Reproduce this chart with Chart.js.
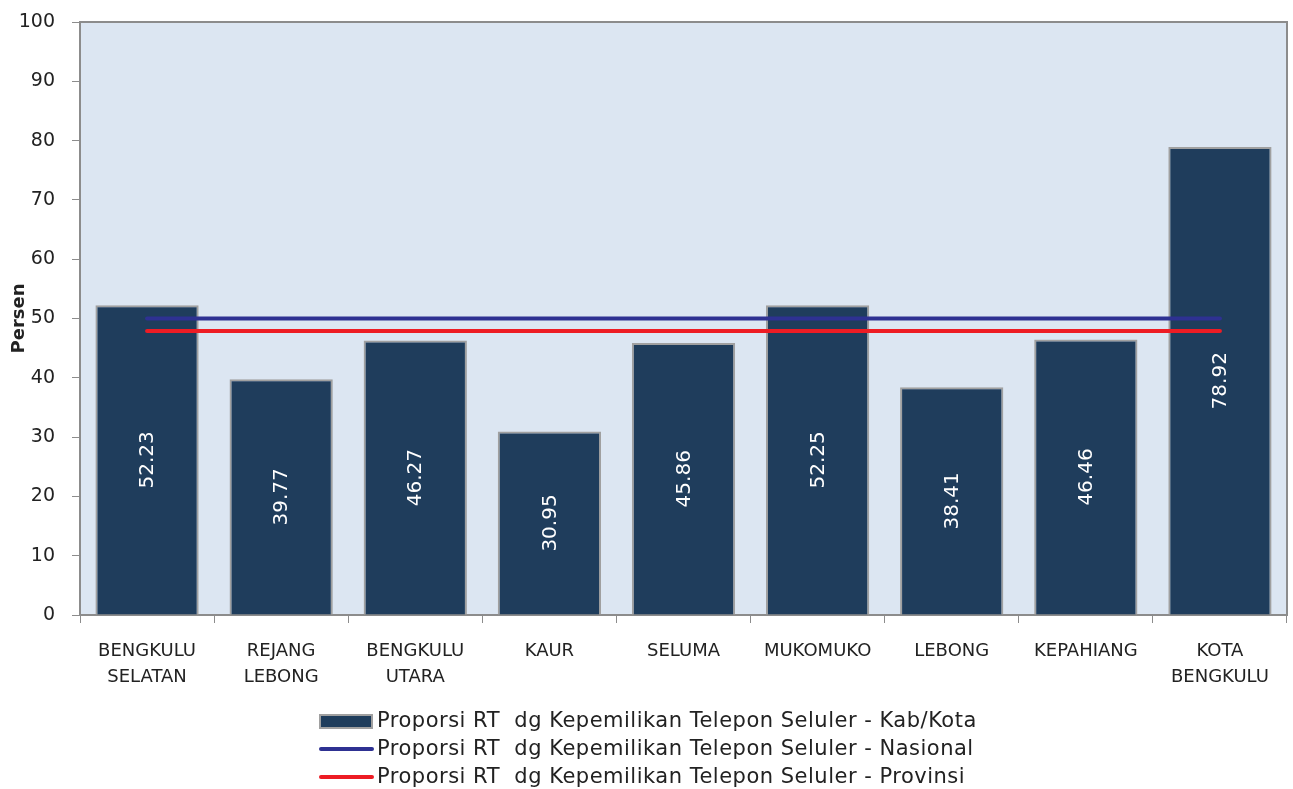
<!DOCTYPE html>
<html lang="id">
<head>
<meta charset="UTF-8">
<title>Proporsi RT dg Kepemilikan Telepon Seluler</title>
<script src="https://cdn.jsdelivr.net/npm/chart.js@4.4.0/dist/chart.umd.min.js"></script>
<style>
  html, body { margin: 0; padding: 0; background: #fff; }
  #wrap { width: 1293px; height: 789px; position: relative; }
</style>
</head>
<body>
<div id="wrap"><canvas id="chart"></canvas></div>
<script>
const categories = [
  ['BENGKULU', 'SELATAN'], ['REJANG', 'LEBONG'], ['BENGKULU', 'UTARA'], 'KAUR', 'SELUMA',
  'MUKOMUKO', 'LEBONG', 'KEPAHIANG', ['KOTA', 'BENGKULU']
];
const kabKota = [52.23, 39.77, 46.27, 30.95, 45.86, 52.25, 38.41, 46.46, 78.92];
const nasional = [50, 50, 50, 50, 50, 50, 50, 50, 50];
const provinsi = [47.9, 47.9, 47.9, 47.9, 47.9, 47.9, 47.9, 47.9, 47.9];
const seriesNames = [
  'Proporsi RT  dg Kepemilikan Telepon Seluler - Kab/Kota',
  'Proporsi RT  dg Kepemilikan Telepon Seluler - Nasional',
  'Proporsi RT  dg Kepemilikan Telepon Seluler - Provinsi'
];

const FONT = '"DejaVu Sans", sans-serif';
const BAR = '#1f3d5c';
const BLUE = '#2e3192';
const RED = '#ed1c24';

// plot background and frame
const frame = {
  id: 'frame',
  beforeDraw(chart) {
    const a = chart.chartArea, ctx = chart.ctx;
    ctx.save();
    ctx.fillStyle = '#dce6f2';
    ctx.fillRect(a.left, a.top, a.right - a.left, a.bottom - a.top);
    ctx.restore();
  },
  afterDraw(chart) {
    const a = chart.chartArea, ctx = chart.ctx;
    ctx.save();
    ctx.strokeStyle = '#8c8c8c';
    ctx.lineWidth = 2;
    ctx.beginPath();
    ctx.moveTo(a.left, a.top);
    ctx.lineTo(a.right, a.top);
    ctx.lineTo(a.right, a.bottom);
    ctx.stroke();
    ctx.restore();
  }
};

// rotated value labels inside bars
const barLabels = {
  id: 'barLabels',
  afterDatasetsDraw(chart) {
    const ctx = chart.ctx;
    const meta = chart.getDatasetMeta(0);
    ctx.save();
    ctx.fillStyle = '#ffffff';
    ctx.font = '20px ' + FONT;
    ctx.textAlign = 'center';
    ctx.textBaseline = 'middle';
    meta.data.forEach((bar, i) => {
      const cy = (bar.y + bar.base) / 2;
      ctx.save();
      ctx.translate(bar.x, cy);
      ctx.rotate(-Math.PI / 2);
      ctx.fillText(kabKota[i].toFixed(2), 0, 1);
      ctx.restore();
    });
    ctx.restore();
  }
};

// legend stacked at the bottom
const legendBox = {
  id: 'legendBox',
  afterDraw(chart) {
    const ctx = chart.ctx;
    const x0 = 320, w = 52, rows = [721, 749, 777];
    ctx.save();
    ctx.font = '21px ' + FONT;
    ctx.letterSpacing = '0.5px';
    ctx.textBaseline = 'middle';
    ctx.fillStyle = BAR;
    ctx.fillRect(x0, rows[0] - 6, w, 13);
    ctx.strokeStyle = '#a0a0a0';
    ctx.lineWidth = 2;
    ctx.strokeRect(x0, rows[0] - 6, w, 13);
    ctx.lineCap = 'round';
    ctx.lineWidth = 4;
    ctx.strokeStyle = BLUE;
    ctx.beginPath(); ctx.moveTo(x0 + 1, rows[1]); ctx.lineTo(x0 + w, rows[1]); ctx.stroke();
    ctx.strokeStyle = RED;
    ctx.beginPath(); ctx.moveTo(x0 + 1, rows[2]); ctx.lineTo(x0 + w, rows[2]); ctx.stroke();
    ctx.fillStyle = '#222';
    seriesNames.forEach((t, i) => ctx.fillText(t, x0 + 57, rows[i] + 1));
    ctx.restore();
  }
};

new Chart(document.getElementById('chart'), {
  data: {
    labels: categories,
    datasets: [
      {
        type: 'bar', label: seriesNames[0], data: kabKota, order: 2,
        backgroundColor: BAR, borderColor: '#a0a0a0', borderWidth: 2,
        barPercentage: 0.77, categoryPercentage: 1
      },
      {
        type: 'line', label: seriesNames[1], data: nasional, order: 1,
        borderColor: BLUE, borderWidth: 4, borderCapStyle: 'round', pointRadius: 0, fill: false
      },
      {
        type: 'line', label: seriesNames[2], data: provinsi, order: 0,
        borderColor: RED, borderWidth: 4, borderCapStyle: 'round', pointRadius: 0, fill: false
      }
    ]
  },
  options: {
    responsive: true,
    maintainAspectRatio: false,
    animation: false,
    layout: { padding: { top: 22, right: 6, bottom: 0, left: 0 } },
    plugins: {
      legend: { display: false },
      tooltip: { enabled: false }
    },
    scales: {
      x: {
        offset: true,
        grid: { offset: true, drawOnChartArea: false, color: '#8c8c8c', tickLength: 8 },
        border: { color: '#8c8c8c', width: 2 },
        ticks: { color: '#222', font: { family: FONT, size: 18, lineHeight: 1.45 }, padding: 15, maxRotation: 0, autoSkip: false },
        afterFit(s) { s.height = 174; s.paddingLeft = 0; s.paddingRight = 0; }
      },
      y: {
        min: 0, max: 100,
        grid: { drawOnChartArea: false, color: '#8c8c8c', tickLength: 8 },
        border: { color: '#8c8c8c', width: 2 },
        ticks: { stepSize: 10, color: '#222', font: { family: FONT, size: 19 }, padding: 17 },
        title: { display: true, text: 'Persen', color: '#222', font: { family: FONT, size: 18, weight: 'bold' }, padding: { top: 9, bottom: 0 } },
        afterFit(s) { s.width = 80; s.paddingTop = 0; s.paddingBottom = 0; }
      }
    }
  },
  plugins: [frame, barLabels, legendBox]
});
</script>
</body>
</html>
